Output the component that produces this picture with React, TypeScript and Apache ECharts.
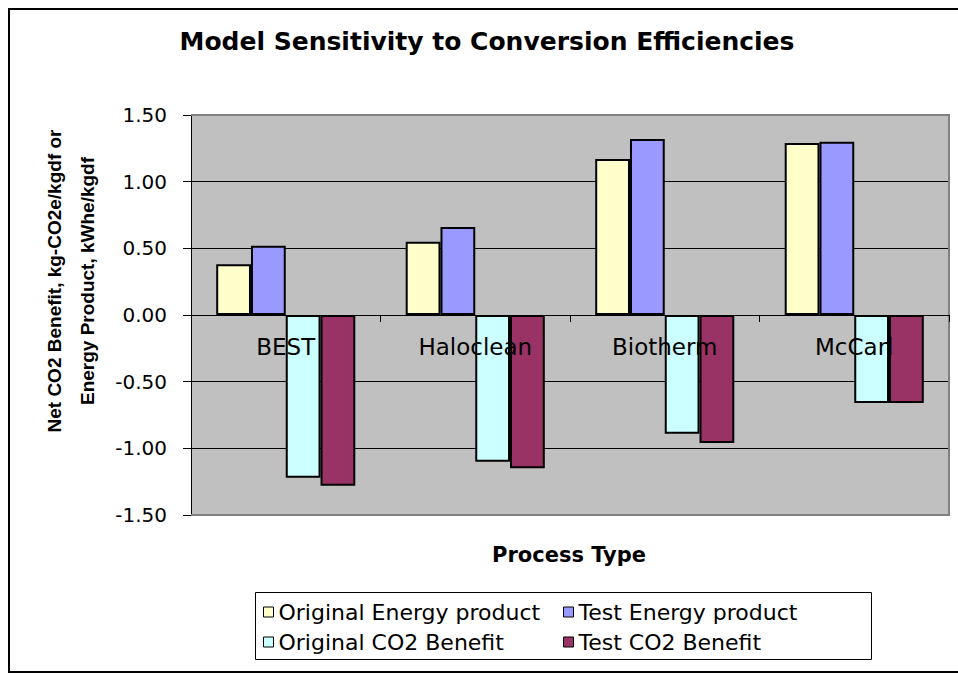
import React, { useEffect, useRef } from 'react';
import * as echarts from 'echarts';

const categories = ['BEST', 'Haloclean', 'Biotherm', 'McCarl'];
const originalEnergy = [0.38, 0.55, 1.17, 1.29];
const testEnergy = [0.52, 0.66, 1.32, 1.3];
const originalCO2 = [-1.22, -1.1, -0.89, -0.66];
const testCO2 = [-1.28, -1.15, -0.96, -0.66];
const seriesNames = ['Original Energy product', 'Test Energy product', 'Original CO2 Benefit', 'Test CO2 Benefit'];
const seriesColors = ['#FFFFCC', '#9999FF', '#CCFFFF', '#993366'];
const seriesData = [originalEnergy, testEnergy, originalCO2, testCO2];
const yMin = -1.5;
const yMax = 1.5;
const yInterval = 0.5;
const titleText = 'Model Sensitivity to Conversion Efficiencies';
const yTitle = 'Net CO2 Benefit, kg-CO2e/kgdf or\nEnergy Product, kWhe/kgdf';
const xTitle = 'Process Type';

const W = 958;
const H = 673;
const gridL = 191;
const gridT = 115;
const gridR = 949;
const gridB = 515;
// move the category axis from the bottom of the grid up to the value 0
const zeroOffset = -((gridB - gridT) * (0 - yMin)) / (yMax - yMin);

export default function App() {
  const ref = useRef<HTMLDivElement>(null);
  useEffect(() => {
    if (!ref.current) return;
    const chart = echarts.init(ref.current, undefined, { renderer: 'svg' });
    const legendText = { fontFamily: 'DejaVu Sans', fontSize: 22, color: '#000', lineHeight: 26 };
    const legendCommon = {
      orient: 'vertical',
      icon: 'rect',
      itemWidth: 10,
      itemHeight: 10,
      itemGap: 4,
      padding: 0,
      selectedMode: false,
      textStyle: legendText,
      itemStyle: { borderColor: '#000', borderWidth: 1 },
      top: 599,
      z: 20,
    };
    chart.setOption({
      animation: false,
      backgroundColor: '#fff',
      grid: {
        left: gridL,
        top: gridT,
        right: W - gridR,
        bottom: H - gridB,
        show: true,
        backgroundColor: '#C0C0C0',
        borderWidth: 0,
        containLabel: false,
      },
      legend: [
        { ...legendCommon, left: 263, data: [seriesNames[0], seriesNames[2]] },
        { ...legendCommon, left: 563, data: [seriesNames[1], seriesNames[3]] },
      ],
      xAxis: {
        type: 'category',
        data: categories,
        position: 'bottom',
        offset: zeroOffset,
        z: 10,
        axisLine: { show: true, onZero: false, lineStyle: { color: '#000', width: 1 } },
        axisTick: { show: true, length: 7, alignWithLabel: false, lineStyle: { color: '#000' } },
        axisLabel: { margin: 20, interval: 0, fontFamily: 'DejaVu Sans', fontSize: 23, color: '#000' },
        splitLine: { show: false },
      },
      yAxis: {
        type: 'value',
        min: yMin,
        max: yMax,
        interval: yInterval,
        z: 0,
        axisLine: { show: true, lineStyle: { color: '#000', width: 1 } },
        axisTick: { show: true, length: 8, lineStyle: { color: '#000' } },
        axisLabel: {
          margin: 24,
          fontFamily: 'DejaVu Sans',
          fontSize: 20,
          color: '#000',
          formatter: (v: number) => v.toFixed(2),
        },
        splitLine: { show: true, lineStyle: { color: '#000', width: 1 } },
      },
      series: seriesNames.map((name, i) => ({
        type: 'bar',
        name,
        data: seriesData[i],
        z: 2,
        barGap: '0%',
        barCategoryGap: '26.6%',
        itemStyle: { color: seriesColors[i], borderColor: '#000', borderWidth: 2 },
      })),
      graphic: [
        {
          type: 'rect',
          z: 0,
          shape: { x: 9, y: 9, width: 1000, height: 663 },
          style: { fill: 'none', stroke: '#000', lineWidth: 2 },
          silent: true,
        },
        {
          type: 'polyline',
          z: 1,
          shape: { points: [[gridL, gridT], [gridR, gridT], [gridR, gridB], [gridL, gridB]] },
          style: { fill: 'none', stroke: '#808080', lineWidth: 2 },
          silent: true,
        },
        {
          type: 'rect',
          z: 1,
          shape: { x: 255.5, y: 592.5, width: 616, height: 67 },
          style: { fill: '#fff', stroke: '#000', lineWidth: 1 },
          silent: true,
        },
        {
          type: 'text',
          z: 5,
          x: 487,
          y: 41,
          style: {
            text: titleText,
            fontFamily: 'DejaVu Sans',
            fontWeight: 'bold',
            fontSize: 25,
            fill: '#000',
            align: 'center',
            verticalAlign: 'middle',
          },
        },
        {
          type: 'text',
          z: 5,
          x: 71,
          y: 281,
          rotation: Math.PI / 2,
          style: {
            text: yTitle,
            fontFamily: 'Liberation Sans',
            fontWeight: 'bold',
            fontSize: 19,
            lineHeight: 33,
            fill: '#000',
            align: 'center',
            verticalAlign: 'middle',
          },
        },
        {
          type: 'text',
          z: 5,
          x: 569,
          y: 555,
          style: {
            text: xTitle,
            fontFamily: 'DejaVu Sans',
            fontWeight: 'bold',
            fontSize: 21,
            fill: '#000',
            align: 'center',
            verticalAlign: 'middle',
          },
        },
      ],
    });
    return () => chart.dispose();
  }, []);
  return (
    <div
      ref={ref}
      style={{ position: 'absolute', left: 0, top: 0, width: W, height: H, background: '#fff' }}
    />
  );
}
